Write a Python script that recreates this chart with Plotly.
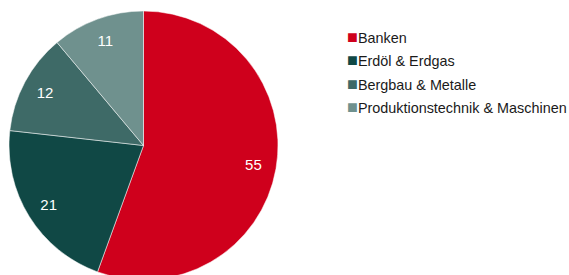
import plotly.graph_objects as go

labels = ["Banken", "Erdöl & Erdgas", "Bergbau & Metalle", "Produktionstechnik & Maschinen"]
values = [55, 21, 12, 11]
colors = ["#CF001C", "#104845", "#3E6A67", "#6F918E"]

FONT = "Liberation Sans, Arial, sans-serif"
W, H = 569, 280
T = 11
domain = dict(x=[0.0158, 0.4886], y=[0, 1])

fig = go.Figure()
# coloured slices
fig.add_trace(go.Pie(
    labels=labels, values=values, sort=False, direction="clockwise", rotation=0,
    marker=dict(colors=colors, line=dict(color="white", width=0.5)),
    textinfo="none", domain=domain, showlegend=False, hoverinfo="label+value",
))
# value labels placed in an outer ring
fig.add_trace(go.Pie(
    labels=labels, values=values, sort=False, direction="clockwise", rotation=0,
    hole=0.66,
    marker=dict(colors=["rgba(0,0,0,0)"] * len(values), line=dict(width=0)),
    textinfo="value", textposition="inside", insidetextorientation="horizontal",
    textfont=dict(color="white", size=15, family=FONT),
    domain=domain, showlegend=False, hoverinfo="skip",
))

# legend rows
leg_x = 345 / W
row0 = 37.0
gap = 23.4
for i, (lab, col) in enumerate(zip(labels, colors)):
    ypix = row0 + i * gap
    fig.add_annotation(
        xref="paper", yref="paper", x=leg_x, y=1 - (ypix - T) / (H - T),
        xanchor="left", yanchor="middle", showarrow=False,
        text=f"<span style='color:{col};font-size:18px'>■</span>{lab}",
        font=dict(family=FONT, size=14.4, color="#1a1a1a"),
    )

fig.update_layout(
    width=W, height=H,
    margin=dict(l=0, r=0, t=T, b=0),
    paper_bgcolor="white", plot_bgcolor="white",
    font=dict(family=FONT, size=14, color="#1a1a1a"),
    showlegend=False,
)

fig.write_html(
    "out.html",
    config={"displayModeBar": False},
    post_script="document.body.style.margin='0';"
                "document.documentElement.style.overflow='hidden';"
                "document.body.style.overflow='hidden';",
)
